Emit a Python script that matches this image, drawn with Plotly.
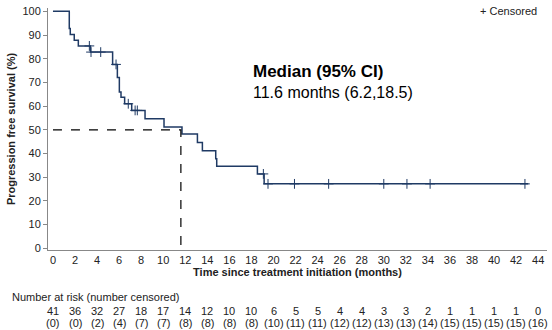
import plotly.graph_objects as go

# Kaplan-Meier step curve (time in months, survival %)
step_times = [0, 1.48, 1.57, 1.93, 2.3, 3.4, 5.41, 5.84, 6.02, 6.17, 6.5, 7.14, 8.35, 10.07, 11.7, 13.1, 13.55, 14.76, 14.85, 18.54, 19.15, 43.1]
step_surv = [100, 92.7, 90.2, 87.8, 85.4, 82.8, 77.6, 72.1, 66.0, 63.7, 61.0, 58.2, 54.7, 51.2, 48.2, 44.7, 41.2, 37.8, 34.6, 31.4, 27.2, 27.2]

# censored observations
cens_times = [3.3, 3.45, 4.33, 5.72, 6.83, 7.45, 7.65, 19.08, 19.5, 21.9, 25.0, 30.0, 32.1, 34.2, 42.8]
cens_surv = [85.4, 82.8, 82.8, 77.6, 61.0, 58.2, 58.2, 31.4, 27.2, 27.2, 27.2, 27.2, 27.2, 27.2, 27.2]

median_time = 11.6
median_level = 50

risk_times = list(range(0, 45, 2))
at_risk = [41, 36, 32, 27, 18, 17, 14, 12, 10, 10, 6, 5, 5, 4, 4, 3, 3, 2, 1, 1, 1, 1, 0]
n_censored = [0, 0, 2, 4, 7, 7, 8, 8, 8, 8, 10, 11, 11, 12, 12, 13, 13, 14, 15, 15, 15, 15, 16]

FONT = "Liberation Sans, Arial, sans-serif"
CURVE = "#1f3a64"
TXT = "#222"

fig = go.Figure()
fig.add_trace(go.Scatter(x=step_times, y=step_surv, mode="lines", line_shape="hv",
                         line=dict(color=CURVE, width=1.5), showlegend=False, hoverinfo="skip"))
fig.add_trace(go.Scatter(x=cens_times, y=cens_surv, mode="markers", name="Censored", showlegend=False,
                         marker=dict(symbol="cross-thin", size=7, line=dict(color=CURVE, width=1))))
# median dashed lines
fig.add_trace(go.Scatter(x=[0, median_time, median_time], y=[median_level, median_level, 0],
                         mode="lines", line=dict(color="black", width=1.2, dash="dash"),
                         showlegend=False, hoverinfo="skip"))

# legend-like label
fig.add_annotation(x=1, y=1, xref="paper", yref="paper", xanchor="right", yanchor="middle",
                   xshift=-8, yshift=-3, text="+ Censored", showarrow=False,
                   font=dict(family=FONT, size=11, color=TXT))

fig.add_annotation(x=0, y=0, xref="paper", yref="paper", xanchor="left", yanchor="middle",
                   xshift=203, yshift=179, text="<b>Median (95% CI)</b>", showarrow=False,
                   font=dict(family=FONT, size=17, color="black"))
fig.add_annotation(x=0, y=0, xref="paper", yref="paper", xanchor="left", yanchor="middle",
                   xshift=203, yshift=158, text="11.6 months (6.2,18.5)", showarrow=False,
                   font=dict(family=FONT, size=16, color="black"))

fig.add_annotation(x=0, y=0, xref="paper", yref="paper", xanchor="left", yanchor="middle",
                   xshift=-38, yshift=-47, text="Number at risk (number censored)", showarrow=False,
                   font=dict(family=FONT, size=11, color=TXT))
for t, n, c in zip(risk_times, at_risk, n_censored):
    fig.add_annotation(x=t, y=0, xref="x", yref="paper", yanchor="middle", yshift=-61, text=str(n),
                       showarrow=False, font=dict(family=FONT, size=11, color=TXT))
    fig.add_annotation(x=t, y=0, xref="x", yref="paper", yanchor="middle", yshift=-73, text=f"({c})",
                       showarrow=False, font=dict(family=FONT, size=11, color=TXT))

fig.update_layout(
    width=552, height=330,
    margin=dict(l=48, r=5, t=5, b=80),
    plot_bgcolor="white", paper_bgcolor="white",
    font=dict(family=FONT, size=11, color=TXT),
    showlegend=False,
    xaxis=dict(range=[-0.45, 44.8], tickvals=risk_times, showgrid=False, zeroline=False,
               showline=True, linecolor="#888", linewidth=1, ticks="", tickfont=dict(size=11),
               title=dict(text="<b>Time since treatment initiation (months)</b>", font=dict(size=11), standoff=2)),
    yaxis=dict(range=[-0.7, 101.4], tickvals=list(range(0, 101, 10)), showgrid=False, zeroline=False,
               showline=True, linecolor="#888", linewidth=1, ticks="outside", ticklen=4, tickcolor="#888",
               tickfont=dict(size=11),
               title=dict(text="<b>Progression free survival (%)</b>", font=dict(size=11), standoff=4)),
)

fig.write_html("out.html")
